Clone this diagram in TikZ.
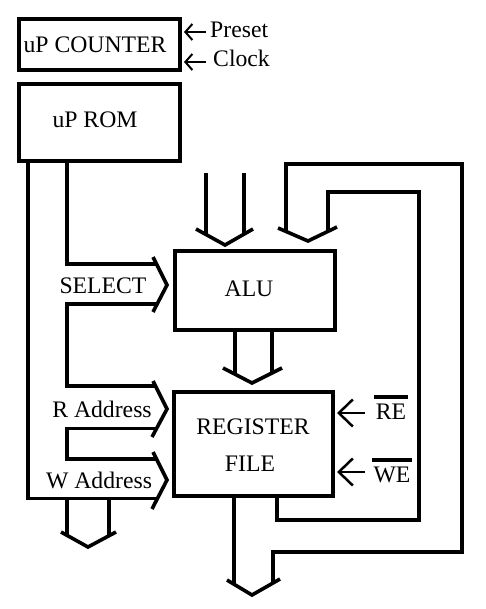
\documentclass[tikz,border=0pt]{standalone}
\usepackage{fontspec}
\setmainfont{Liberation Serif}
\usetikzlibrary{arrows.meta}
\begin{document}
\begin{tikzpicture}[x=1pt,y=-1pt,
  box/.style={draw, line width=4pt, inner sep=0pt, outer sep=0pt},
  bus/.style={line width=3.6pt},
  lbl/.style={inner sep=0pt, anchor=base, font=\fontsize{23.7pt}{28pt}\selectfont},
  lblw/.style={lbl, anchor=base west},
  sig/.style={line width=2pt, -{Straight Barb[length=7pt,width=16pt]}},
  ctl/.style={line width=2.5pt, -{Straight Barb[length=14pt,width=27pt]}},
  bar/.style={line width=3.8pt}
]
\useasboundingbox (0,0) rectangle (486,609);

% blocks
\node[box, minimum width=161pt, minimum height=51pt] (counter) at (99.5,44.5) {};
\node[box, minimum width=161pt, minimum height=77pt] (rom) at (99.5,122.5) {};
\node[box, minimum width=160pt, minimum height=79pt] (alu) at (255,290.5) {};
\node[box, minimum width=159pt, minimum height=104pt] (reg) at (253.5,444) {};

% texts
\node[lbl] (tcounter) at (95,53) {uP COUNTER};
\node[lbl] (trom) at (95,128) {uP ROM};
\node[lbl] (talu) at (249,296) {ALU};
\node[lbl] (treg) at (253,434) {REGISTER};
\node[lbl] (tfile) at (250,471) {FILE};
\node[lbl] (tsel) at (103,293) {SELECT};
\node[lbl] (tra) at (102,417) {R Address};
\node[lbl] (twa) at (99,488) {W Address};
\node[lblw] (tpreset) at (210,38) {Preset};
\node[lblw] (tclock) at (213,67) {Clock};
\node[lbl] (tre) at (391,419) {RE};
\node[lbl] (twe) at (392,482) {WE};

% overbars
\draw[bar] ([xshift=-1.5pt,yshift=6pt]tre.north west) -- ([xshift=1.5pt,yshift=6pt]tre.north east);
\draw[bar] ([xshift=-1.5pt,yshift=6pt]twe.north west) -- ([xshift=1.5pt,yshift=6pt]twe.north east);

% control inputs
\draw[sig] (206,32) -- (184,32);
\draw[sig] (206,62) -- (184,62);
\draw[ctl] (365,413) -- (337,413);
\draw[ctl] (365,472) -- (337,472);

% left microcode bus
\draw[bus] (28,161) -- (28,498.5) -- (156,498.5);
\draw[bus] (67,161) -- (67,264) -- (156,264);
\draw[bus] (157,304) -- (67,304) -- (67,386) -- (156,386);
\draw[bus] (157,428.5) -- (67,428.5) -- (67,459) -- (156,459);
\draw[bus] (153,257) -- (167,285) -- (153,312);
\draw[bus] (153,381) -- (167,409) -- (152,437);
\draw[bus] (153,452) -- (167,480) -- (152,509);
% down arrow of left bus
\draw[bus] (67,498.5) -- (67,535);
\draw[bus] (109,498.5) -- (109,535.5);
\draw[bus] (61,532) -- (88,547) -- (116,532);

% ALU input bus
\draw[bus] (206,173) -- (206,234.5);
\draw[bus] (244,173) -- (244,234);
\draw[bus] (196,229) -- (225,245) -- (253,229);

% feedback bus into ALU
\draw[bus] (286,231.5) -- (286,164) -- (462,164) -- (462,552) -- (273,552) -- (273,583);
\draw[bus] (328,231.5) -- (328,192) -- (419,192) -- (419,520) -- (277,520) -- (277,497);
\draw[bus] (278,228) -- (308,241) -- (337,227);

% ALU output bus
\draw[bus] (235,330) -- (235,374);
\draw[bus] (272,330) -- (272,373);
\draw[bus] (223,368) -- (252,383) -- (282,368);

% register file output bus
\draw[bus] (234,496) -- (234,584);
\draw[bus] (227,580) -- (252,595) -- (280,579);
\end{tikzpicture}
\end{document}
